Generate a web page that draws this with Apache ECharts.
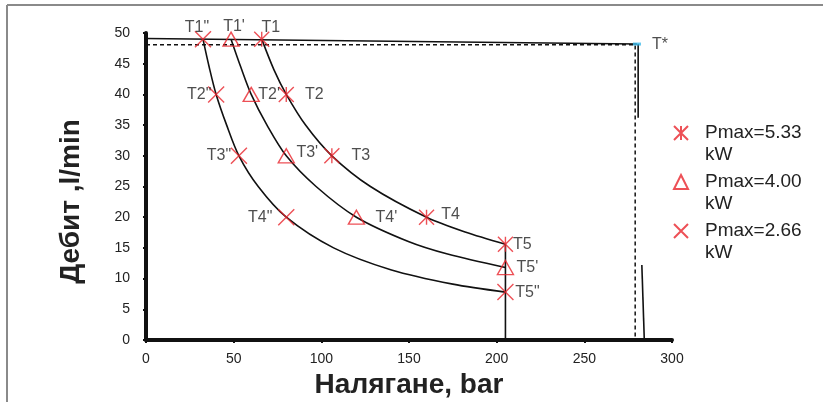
<!DOCTYPE html>
<html>
<head>
<meta charset="utf-8">
<script src="https://cdn.jsdelivr.net/npm/echarts@6/dist/echarts.min.js"></script>
<style>
  html, body { margin: 0; padding: 0; background: #fff; }
  #chart { width: 823px; height: 402px; }
</style>
</head>
<body>
<div id="chart"></div>
<script>
// Operating points: pressure (bar) and flow (l/min) for each pump power
const pressure533 = [66, 80, 106, 160, 205];
const flow533     = [49, 40, 30, 20, 15.6];
const pressure400 = [48.5, 60, 80, 120, 205];
const flow400     = [49, 40, 30, 20, 11.8];
const pressure266 = [32.5, 40, 53, 80, 205];
const flow266     = [49, 40, 30, 20, 7.8];

const tags533 = ['T1', 'T2', 'T3', 'T4', 'T5'];
const tags400 = ["T1'", "T2'", "T3'", "T4'", "T5'"];
const tags266 = ['T1"', 'T2"', 'T3"', 'T4"', 'T5"'];

const seriesNames = ['Pmax=5.33\nkW', 'Pmax=4.00\nkW', 'Pmax=2.66\nkW'];

// Constant-power curves traced through and between the operating points
const curvePressure533 = [66, 73, 80, 91, 106, 128, 160, 182, 205];
const curveFlow533     = [49, 44, 40, 35, 30, 25, 20, 17.6, 15.6];
const curvePressure400 = [48.5, 54, 60, 69, 80, 97, 120, 150, 172, 205];
const curveFlow400     = [49, 44.5, 40, 35, 30, 25, 20, 16, 14, 11.8];
const curvePressure266 = [32.5, 36, 40, 46, 53, 64, 80, 107, 140, 175, 205];
const curveFlow266     = [49, 44.5, 40, 35, 30, 25, 20, 15, 11.4, 9.1, 7.8];

// Pump characteristic up to the relief point T*
const reliefPressure = [0, 280];
const reliefFlow     = [49.1, 48.2];
const tStarPressure  = [280];
const tStarFlow      = [48.2];
const tStarTag       = ['T*'];
const dashedPressure = [0, 279, 279];
const dashedFlow     = [48.1, 48.1, 0];
const upperDropPressure = [280.7, 280.7];
const upperDropFlow     = [48.2, 36.2];
const lowerDropPressure = [282.8, 284.2];
const lowerDropFlow     = [12.2, 0];
const endPressure = [205, 205];
const endFlow     = [15.6, 0];

// Axis ranges
const xMin = 0, xMax = 300, xStep = 50;
const yMin = 0, yMax = 50, yStep = 5;

// Label placement (px offsets from each marker)
const labelOffsets533 = [[9, -12], [28, 0], [29, 0], [24, -3], [17, 0]];
const labelOffsets400 = [[3, -13], [18, 0], [21, -3], [30, 0], [22, 0]];
const labelOffsets266 = [[-6, -12], [-17, 0], [-20, 0], [-26, 0], [22, 0]];

const RED = '#e8242c';
const INK = '#111';
const FONT = 'Liberation Sans, Arial, sans-serif';

const pairs = (xs, ys) => xs.map((x, i) => [x, ys[i]]);

const markerData = (xs, ys, tags, offs) => xs.map((x, i) => ({
  name: tags[i],
  value: [x, ys[i]],
  label: { offset: offs[i] }
}));

const labelStyle = {
  show: true,
  position: 'inside',
  formatter: '{b}',
  fontFamily: FONT,
  fontSize: 16,
  color: '#222',
  align: 'center',
  verticalAlign: 'middle'
};

const plainLine = (xs, ys, extra) => Object.assign({
  type: 'line',
  data: pairs(xs, ys),
  symbol: 'none',
  silent: true,
  lineStyle: { color: INK, width: 1.6 },
  z: 2
}, extra || {});

const curve = (xs, ys) => plainLine(xs, ys, { smooth: 0.3 });

const markerStyle = { color: 'transparent', borderColor: RED, borderWidth: 1.4 };

const option = {
  animation: false,
  backgroundColor: '#fff',
  grid: { left: 146, right: 151, top: 33, bottom: 62, outerBoundsMode: 'none', containLabel: false },
  xAxis: {
    type: 'value',
    min: xMin, max: xMax, interval: xStep,
    name: 'Налягане, bar',
    nameLocation: 'middle',
    nameGap: 23,
    nameTextStyle: { fontFamily: FONT, fontWeight: 'bold', fontSize: 28, color: '#222' },
    axisLine: { lineStyle: { color: INK, width: 4 } },
    axisTick: { show: true, length: 3, lineStyle: { color: INK, width: 2 } },
    axisLabel: { fontFamily: FONT, fontSize: 14, color: '#222', margin: 12 },
    splitLine: { show: false }
  },
  yAxis: {
    type: 'value',
    min: yMin, max: yMax, interval: yStep,
    name: 'Дебит ,l/min',
    nameLocation: 'middle',
    nameGap: 61,
    nameTextStyle: { fontFamily: FONT, fontWeight: 'bold', fontSize: 28, color: '#222', padding: [0, 30, 0, 0] },
    axisLine: { lineStyle: { color: INK, width: 4 } },
    axisTick: { show: true, length: 3, lineStyle: { color: INK, width: 2 } },
    axisLabel: { fontFamily: FONT, fontSize: 14, color: '#222', margin: 16 },
    splitLine: { show: false }
  },
  legend: {
    data: seriesNames,
    orient: 'vertical',
    left: 673,
    top: 100,
    padding: 0,
    itemWidth: 14,
    itemHeight: 14,
    itemGap: -17,
    selectedMode: false,
    // leading blank line keeps the first text line level with the icon
    formatter: name => '\n' + name,
    textStyle: {
      fontFamily: FONT,
      fontSize: 19,
      lineHeight: 22,
      color: '#222',
      padding: [0, 0, 0, 12]
    }
  },
  graphic: [
    { type: 'line', shape: { x1: 7, y1: 5, x2: 823, y2: 5 }, style: { stroke: '#8a8a8a', lineWidth: 2 } },
    { type: 'line', shape: { x1: 7, y1: 5, x2: 7, y2: 402 }, style: { stroke: '#8a8a8a', lineWidth: 2 } }
  ],
  series: [
    curve(curvePressure533, curveFlow533),
    curve(curvePressure400, curveFlow400),
    curve(curvePressure266, curveFlow266),
    plainLine(reliefPressure, reliefFlow),
    plainLine(dashedPressure, dashedFlow, { lineStyle: { color: INK, width: 1.5, type: [4, 3] } }),
    plainLine(upperDropPressure, upperDropFlow),
    plainLine(lowerDropPressure, lowerDropFlow),
    plainLine(endPressure, endFlow),
    {
      name: seriesNames[0],
      type: 'scatter',
      symbol: 'path://M0,0L20,20M20,0L0,20M10,0L10,20',
      symbolSize: 15,
      itemStyle: markerStyle,
      label: labelStyle,
      data: markerData(pressure533, flow533, tags533, labelOffsets533),
      z: 5
    },
    {
      name: seriesNames[1],
      type: 'scatter',
      symbol: 'triangle',
      symbolSize: [16, 14],
      itemStyle: markerStyle,
      label: labelStyle,
      data: markerData(pressure400, flow400, tags400, labelOffsets400),
      z: 5
    },
    {
      name: seriesNames[2],
      type: 'scatter',
      symbol: 'path://M0,0L20,20M20,0L0,20',
      symbolSize: 16,
      itemStyle: markerStyle,
      label: labelStyle,
      data: markerData(pressure266, flow266, tags266, labelOffsets266),
      z: 5
    },
    {
      type: 'scatter',
      symbol: 'rect',
      symbolSize: [8, 3],
      itemStyle: { color: '#35b6e8' },
      label: Object.assign({}, labelStyle, { offset: [23, 1] }),
      data: tStarPressure.map((x, i) => ({ name: tStarTag[i], value: [x, tStarFlow[i]] })),
      z: 6
    }
  ]
};

const chart = echarts.init(document.getElementById('chart'), null, { renderer: 'canvas' });
chart.setOption(option);
</script>
</body>
</html>
